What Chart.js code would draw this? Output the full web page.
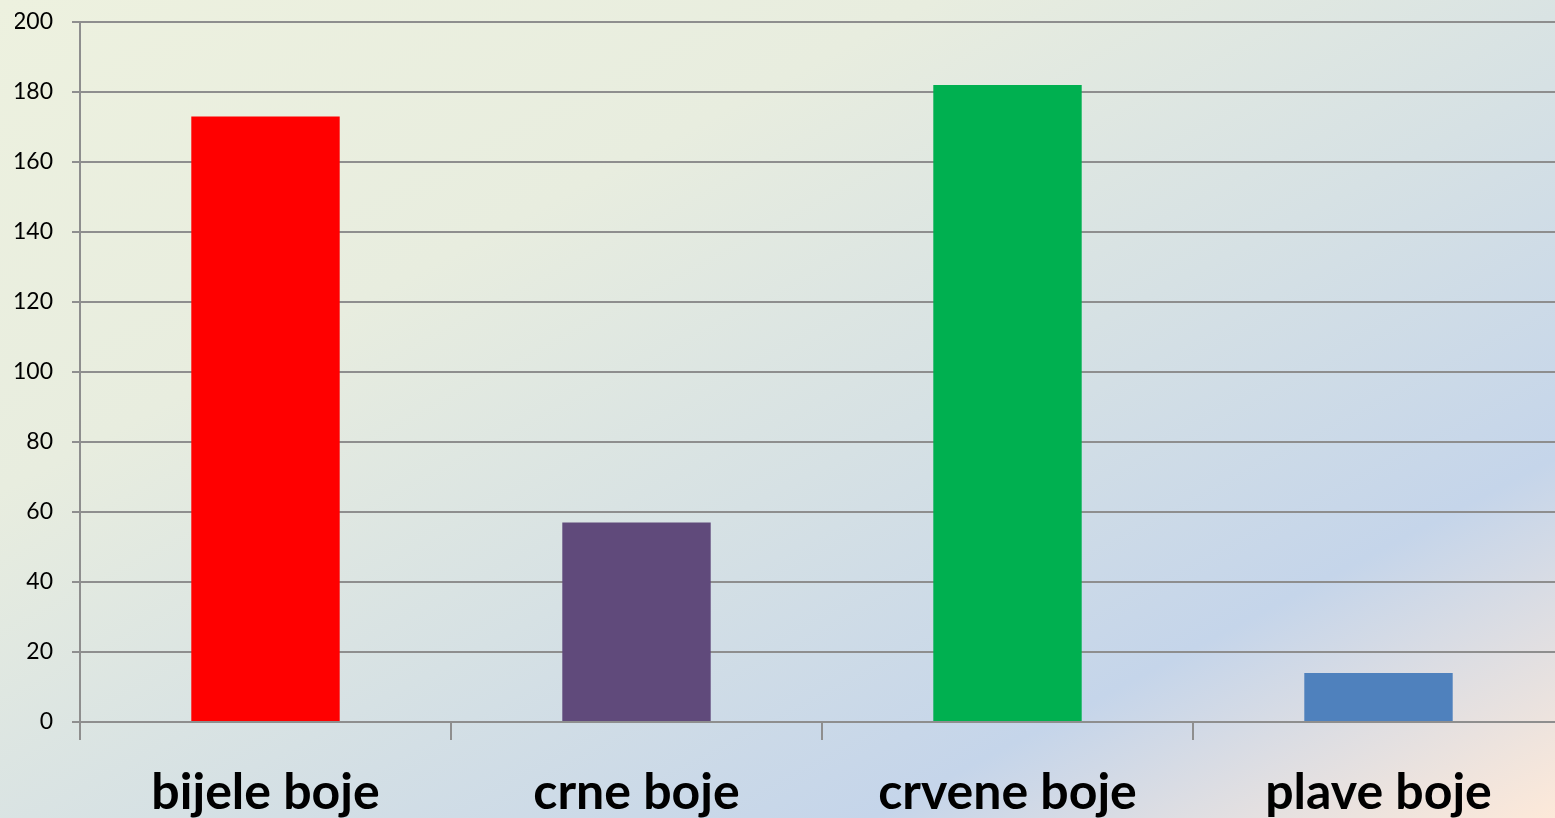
<!DOCTYPE html>
<html>
<head>
<meta charset="utf-8">
<script src="https://cdn.jsdelivr.net/npm/chart.js@4"></script>
<style>
  html, body { margin: 0; padding: 0; overflow: hidden; }
  body {
    width: 1555px; height: 818px;
    background: linear-gradient(to bottom right, #edf1df 0%, #e8eddf 30%, #d6e1e4 55%, #c5d5ea 78%, #fde9d9 100%);
  }
  #wrap { width: 1570px; height: 818px; position: relative; }
</style>
</head>
<body>
<div id="wrap"><canvas id="colorChart"></canvas></div>
<script>
  // chart data
  const categories = ["bijele boje", "crne boje", "crvene boje", "plave boje"];
  const counts = [173, 57, 182, 14];
  const barColors = ["#ff0000", "#604a7b", "#00b050", "#4f81bd"];
  const yTicks = [0, 20, 40, 60, 80, 100, 120, 140, 160, 180, 200];

  const gridGray = "#8e8e8e";

  const ctx = document.getElementById("colorChart").getContext("2d");

  new Chart(ctx, {
    type: "bar",
    data: {
      labels: categories,
      datasets: [
        {
          data: counts,
          backgroundColor: barColors,
          borderWidth: 0,
          barPercentage: 0.4,
          categoryPercentage: 1,
        },
      ],
    },
    options: {
      responsive: true,
      maintainAspectRatio: false,
      animation: false,
      layout: { padding: { top: 22, left: 15, right: 6, bottom: 0 } },
      plugins: { legend: { display: false }, tooltip: { enabled: false } },
      scales: {
        x: {
          // keep the axis band fixed so the plot bottom lands where the original has it
          afterFit: (scale) => {
            scale.height = 96;
            scale.paddingLeft = 0;
            scale.paddingRight = 0;
          },
          grid: {
            display: true,
            drawOnChartArea: false,
            color: gridGray,
            lineWidth: 2,
            tickLength: 18,
          },
          border: { display: false },
          ticks: {
            color: "#000",
            padding: 23,
            font: { family: "Lato", size: 50, weight: "bold" },
          },
        },
        y: {
          min: 0,
          max: 200,
          afterBuildTicks: (axis) => {
            axis.ticks = yTicks.map((v) => ({ value: v }));
          },
          afterFit: (scale) => {
            scale.width = 65;
            scale.paddingTop = 0;
            scale.paddingBottom = 0;
          },
          grid: { color: gridGray, lineWidth: 2, tickLength: 8 },
          border: { color: gridGray, width: 2 },
          ticks: {
            color: "#000",
            padding: 19,
            font: { family: "Lato", size: 23 },
          },
        },
      },
    },
  });
</script>
</body>
</html>
